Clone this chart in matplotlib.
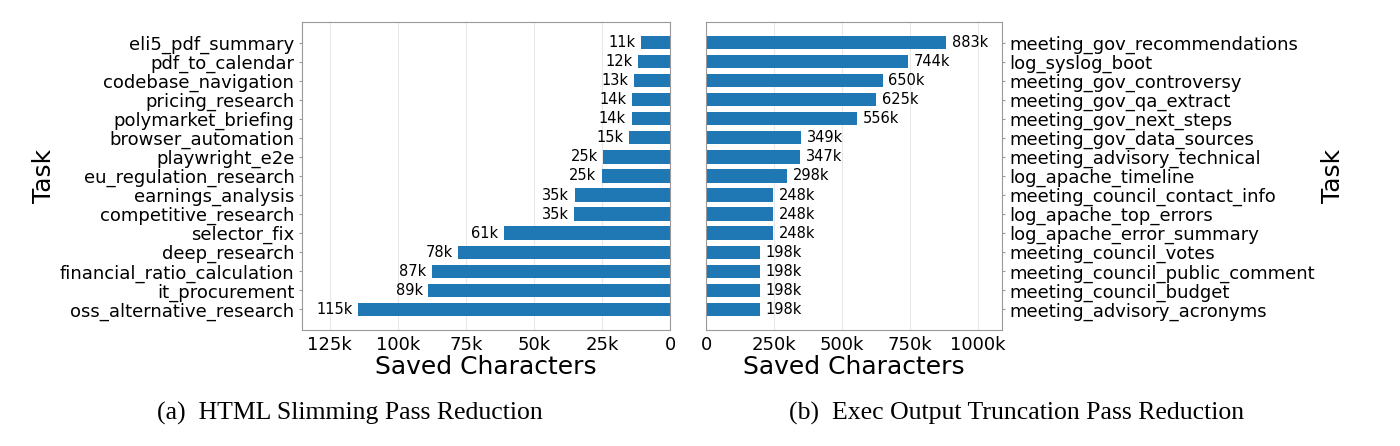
import matplotlib
matplotlib.use("Agg")
import matplotlib.pyplot as plt
from matplotlib.ticker import FuncFormatter

plt.rcParams["font.family"] = "DejaVu Sans"

# (a) HTML slimming, top to bottom
html_tasks = [
    "eli5_pdf_summary", "pdf_to_calendar", "codebase_navigation", "pricing_research",
    "polymarket_briefing", "browser_automation", "playwright_e2e", "eu_regulation_research",
    "earnings_analysis", "competitive_research", "selector_fix", "deep_research",
    "financial_ratio_calculation", "it_procurement", "oss_alternative_research",
]
html_saved = [10600, 11900, 13200, 13900, 14200, 15200, 24600, 25100,
              35000, 35200, 61200, 77800, 87400, 88800, 114600]

# (b) exec output truncation, top to bottom
exec_tasks = [
    "meeting_gov_recommendations", "log_syslog_boot", "meeting_gov_controversy",
    "meeting_gov_qa_extract", "meeting_gov_next_steps", "meeting_gov_data_sources",
    "meeting_advisory_technical", "log_apache_timeline", "meeting_council_contact_info",
    "log_apache_top_errors", "log_apache_error_summary", "meeting_council_votes",
    "meeting_council_public_comment", "meeting_council_budget", "meeting_advisory_acronyms",
]
exec_saved = [883000, 744000, 650000, 625000, 556000, 349000, 347000, 298000,
              248000, 248000, 248000, 198000, 198000, 198000, 198000]

BLUE = "#1f77b4"
SPINE = "#999999"


def kfmt(x, pos=None):
    return "0" if x == 0 else f"{x / 1000:.0f}k"


def panel(ax, tasks, saved, side, head):
    ypos = list(range(len(tasks)))[::-1]
    ax.barh(ypos, saved, height=0.7, color=BLUE, zorder=2)
    ax.set_yticks(ypos)
    ax.set_yticklabels(tasks, fontsize=13)
    ax.set_xlim(0, max(saved) * head)
    ax.xaxis.set_major_formatter(FuncFormatter(kfmt))
    ax.tick_params(axis="x", labelsize=13, length=0, pad=4)
    ax.tick_params(axis="y", color=SPINE, length=2.5, pad=3)
    ax.grid(axis="x", color="#e8e8e8", linewidth=0.8, zorder=0)
    ax.set_axisbelow(True)
    for s in ax.spines.values():
        s.set_color(SPINE)
    ax.set_xlabel("Saved Characters", fontsize=18, labelpad=1)
    if side == "left":
        ax.invert_xaxis()
        ax.set_ylabel("Task", fontsize=18, labelpad=3)
        off, ha = -4, "right"
    else:
        ax.yaxis.tick_right()
        ax.yaxis.set_label_position("right")
        ax.set_ylabel("Task", fontsize=18, labelpad=4)
        off, ha = 4, "left"
    for y, v in zip(ypos, saved):
        ax.annotate(kfmt(v), (v, y), xytext=(off, 0), textcoords="offset points",
                    ha=ha, va="center", fontsize=10.5)


fig = plt.figure(figsize=(14, 4.46), dpi=100)
ax1 = fig.add_axes([0.2157, 0.26, 0.263, 0.691])
ax2 = fig.add_axes([0.5043, 0.26, 0.2114, 0.691])
panel(ax1, html_tasks, html_saved, "left", 1.18)
panel(ax2, exec_tasks, exec_saved, "right", 1.232)

cap = dict(fontsize=18.5, family="Liberation Serif", ha="center", va="center")
fig.text(350 / 1400, 1 - 413 / 446, "(a)  HTML Slimming Pass Reduction", **cap)
fig.text(1017 / 1400, 1 - 413 / 446, "(b)  Exec Output Truncation Pass Reduction", **cap)

fig.savefig("out.png", facecolor="white")
